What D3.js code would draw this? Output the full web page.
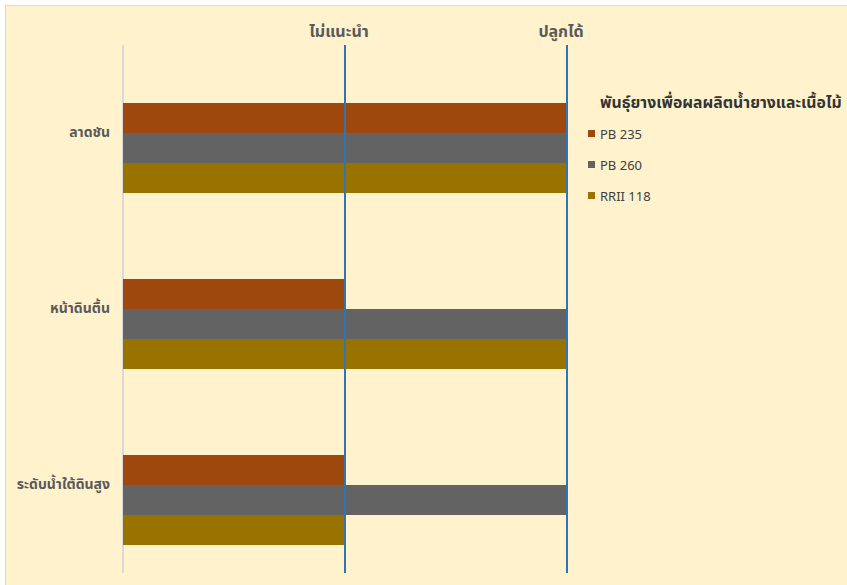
<!DOCTYPE html>
<html><head><meta charset="utf-8">
<script src="https://cdn.jsdelivr.net/npm/d3@7"></script>
<style>
html,body{margin:0;padding:0;background:#fff;}
svg{display:block;}
text{font-family:"Noto Sans Thai","Tahoma","Leelawadee UI","Noto Sans","DejaVu Sans",sans-serif;}
</style></head>
<body>
<svg id="chart" width="847" height="585"></svg>
<script>
const categories = ["ลาดชัน", "หน้าดินตื้น", "ระดับน้ำใต้ดินสูง"];
const seriesNames = ["PB 235", "PB 260", "RRII 118"];
const seriesColors = ["#9E480E", "#636363", "#997300"];
const pb235 = [2, 1, 1];
const pb260 = [2, 2, 2];
const rrii118 = [2, 2, 1];
const tickValues = [1, 2];
const tickLabels = ["ไม่แนะนำ", "ปลูกได้"];
const legendTitle = "พันธุ์ยางเพื่อผลผลิตน้ำยางและเนื้อไม้";

const seriesValues = [pb235, pb260, rrii118];
const svg = d3.select("#chart");

svg.append("rect").attr("x", 5.5).attr("y", 5.5).attr("width", 850).attr("height", 590)
  .attr("fill", "#FFF2CC").attr("stroke", "#D9D9D9").attr("stroke-width", 1);

const x = d3.scaleLinear().domain([0, 2]).range([123, 567]);
const y0 = d3.scaleBand().domain(categories).range([45, 573]);
const groupOffset = 58, groupHeight = 90;
const y1 = d3.scaleBand().domain(seriesNames).range([0, groupHeight]);

// gridline at 0
svg.append("line").attr("x1", x(0)).attr("x2", x(0)).attr("y1", 45).attr("y2", 573)
  .attr("stroke", "#D9D9D9").attr("stroke-width", 2);

// bars
categories.forEach((c, ci) => {
  seriesNames.forEach((s, si) => {
    svg.append("rect")
      .attr("x", x(0))
      .attr("y", y0(c) + groupOffset + y1(s))
      .attr("width", x(seriesValues[si][ci]) - x(0))
      .attr("height", y1.bandwidth())
      .attr("fill", seriesColors[si]);
  });
});

// value gridlines (drawn over bars)
const xAxis = d3.axisTop(x).tickValues(tickValues).tickFormat((d, i) => tickLabels[i]).tickSize(-(573 - 45));
const ga = svg.append("g").attr("transform", "translate(0,45)").call(xAxis);
ga.select(".domain").remove();
ga.selectAll(".tick").attr("transform", d => `translate(${x(d)},0)`);
ga.selectAll(".tick line").attr("stroke", "#2E75B6").attr("stroke-width", 2);
ga.selectAll(".tick text").attr("fill", "#595959").attr("font-size", 16).attr("font-weight", "bold")
  .attr("dx", -6).attr("y", -8);

// category labels
const yAxis = d3.axisLeft(y0).tickSize(0).tickPadding(0);
const gy = svg.append("g").attr("transform", "translate(110,0)").call(yAxis);
gy.select(".domain").remove();
gy.selectAll(".tick text").attr("fill", "#595959").attr("font-size", 14).attr("font-weight", "bold");

// legend
const lg = svg.append("g");
lg.append("text").attr("x", 600).attr("y", 108).text(legendTitle)
  .attr("fill", "#333333").attr("font-size", 15.8).attr("font-weight", "bold");
seriesNames.forEach((s, i) => {
  const yy = 134 + i * 31;
  lg.append("rect").attr("x", 588).attr("y", yy - 4).attr("width", 7).attr("height", 7).attr("fill", seriesColors[i]);
  lg.append("text").attr("x", 600).attr("y", yy + 5).text(s).attr("fill", "#404040").attr("font-size", 13);
});
</script>
</body></html>
